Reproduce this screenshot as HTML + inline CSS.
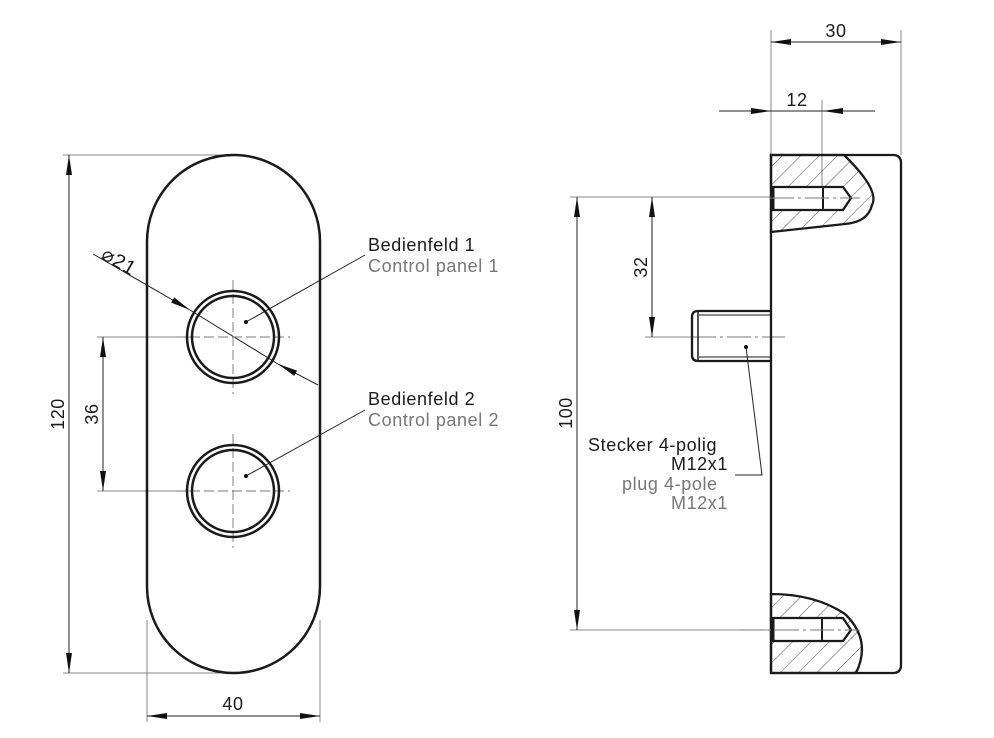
<!DOCTYPE html>
<html><head><style>html,body{margin:0;padding:0;background:#fff}svg{display:block}</style></head><body>
<svg width="994" height="738" viewBox="0 0 994 738" xmlns="http://www.w3.org/2000/svg" font-family="Liberation Sans, sans-serif">
<defs>
<pattern id="h" patternUnits="userSpaceOnUse" width="13" height="13" patternTransform="rotate(45)">
<line x1="0" y1="0" x2="0" y2="13" stroke="#222" stroke-width="0.8"/>
</pattern>
<marker id="a" viewBox="0 0 20 8" refX="20" refY="4" markerWidth="20" markerHeight="8" markerUnits="userSpaceOnUse" orient="auto-start-reverse"><path d="M0,1 L20,4 L0,7 Z" fill="#111"/></marker>
</defs>
<g stroke="#888" stroke-width="1" fill="none">
<line x1="63" y1="155" x2="232" y2="155"/>
<line x1="63" y1="673" x2="232" y2="673"/>
<line x1="97" y1="337" x2="190" y2="337"/>
<line x1="97" y1="491" x2="190" y2="491"/>
<line x1="147" y1="620" x2="147" y2="722"/>
<line x1="320" y1="620" x2="320" y2="722"/>
<line x1="771" y1="30" x2="771" y2="155"/>
<line x1="901" y1="30" x2="901" y2="155"/>
<line x1="822" y1="100" x2="822" y2="187"/>
<line x1="570" y1="197" x2="770" y2="197"/>
<line x1="570" y1="630" x2="770" y2="630"/>
<line x1="645" y1="337" x2="692" y2="337"/>
</g>
<g stroke="#222" stroke-width="1" fill="none">
<line x1="69" y1="155" x2="69" y2="673" marker-start="url(#a)" marker-end="url(#a)"/>
<line x1="103" y1="337" x2="103" y2="491" marker-start="url(#a)" marker-end="url(#a)"/>
<line x1="147" y1="716" x2="320" y2="716" marker-start="url(#a)" marker-end="url(#a)"/>
<line x1="771" y1="42" x2="901" y2="42" marker-start="url(#a)" marker-end="url(#a)"/>
<line x1="719" y1="111" x2="771" y2="111" marker-end="url(#a)"/>
<line x1="771" y1="111" x2="823" y2="111"/>
<line x1="875" y1="111" x2="823" y2="111" marker-end="url(#a)"/>
<line x1="652" y1="197" x2="652" y2="337" marker-start="url(#a)" marker-end="url(#a)"/>
<line x1="577" y1="197" x2="577" y2="630" marker-start="url(#a)" marker-end="url(#a)"/>
<line x1="93" y1="254" x2="190" y2="310" marker-end="url(#a)"/>
<line x1="190" y1="310" x2="278" y2="364"/>
<line x1="318" y1="385" x2="278" y2="364" marker-end="url(#a)"/>
<polyline points="246,322 365,255"/>
<polyline points="246,476 365,410"/>
<polyline points="746,347 762,475 735,475"/>
</g>
<g stroke="#777" stroke-width="0.9" stroke-dasharray="10,4" fill="none">
<line x1="176" y1="337" x2="290" y2="337"/>
<line x1="233" y1="280" x2="233" y2="394"/>
<line x1="176" y1="491" x2="290" y2="491"/>
<line x1="233" y1="434" x2="233" y2="548"/>
</g>
<g stroke="#777" stroke-width="0.9" stroke-dasharray="24,4,3,4" fill="none">
<line x1="692" y1="337" x2="785" y2="337"/>
</g>
<g stroke="#1a1a1a" fill="none">
<rect x="147" y="155" width="173" height="518" rx="86.5" stroke-width="2.5"/>
<circle cx="233" cy="337" r="46" stroke-width="2.5"/>
<circle cx="233" cy="337" r="41" stroke-width="2.5"/>
<circle cx="233" cy="491" r="46" stroke-width="2.5"/>
<circle cx="233" cy="491" r="41" stroke-width="2.5"/>
</g>
<circle cx="246" cy="322" r="2" fill="#111"/>
<circle cx="246" cy="476" r="2" fill="#111"/>
<path d="M771,155 H844 Q880,190 872,205 Q868,222 845,224 L771,232 Z" fill="url(#h)" stroke="#1a1a1a" stroke-width="2.3"/>
<path d="M771,673 H856 Q872,640 845,614 Q815,594 771,594 Z" fill="url(#h)" stroke="#1a1a1a" stroke-width="2.3"/>
<path d="M771,155 H893 Q901,155 901,163 V665 Q901,673 893,673 H771 Z" fill="none" stroke="#1a1a1a" stroke-width="2.3"/>
<path d="M773,187 H843 L851,198 L843,210 H773 Z" fill="#fff" stroke="#1a1a1a" stroke-width="2.3"/>
<line x1="823" y1="187" x2="823" y2="210" stroke="#1a1a1a" stroke-width="2"/>
<line x1="773" y1="187" x2="773" y2="210" stroke="#1a1a1a" stroke-width="3"/>
<path d="M773,618 H843 L851,630 L843,641 H773 Z" fill="#fff" stroke="#1a1a1a" stroke-width="2.3"/>
<line x1="822" y1="618" x2="822" y2="641" stroke="#1a1a1a" stroke-width="2"/>
<line x1="773" y1="618" x2="773" y2="641" stroke="#1a1a1a" stroke-width="3"/>
<line x1="770" y1="198" x2="860" y2="198" stroke="#777" stroke-width="0.9" stroke-dasharray="24,4,3,4"/>
<line x1="740" y1="630" x2="860" y2="630" stroke="#777" stroke-width="0.9" stroke-dasharray="24,4,3,4"/>
<path d="M771,311 H698 Q692,311 692,317 V355 Q692,361 698,361 H771" fill="none" stroke="#1a1a1a" stroke-width="2.3"/>
<line x1="698" y1="311" x2="698" y2="361" stroke="#1a1a1a" stroke-width="1.5"/>
<line x1="699" y1="315" x2="771" y2="315" stroke="#1a1a1a" stroke-width="1"/>
<line x1="699" y1="357" x2="771" y2="357" stroke="#1a1a1a" stroke-width="1"/>
<circle cx="746" cy="347" r="2" fill="#111"/>
<g font-size="18" fill="#1a1a1a" letter-spacing="0.6">
<text x="233" y="710" text-anchor="middle">40</text>
<text transform="translate(64,414) rotate(-90)" text-anchor="middle">120</text>
<text transform="translate(98,414) rotate(-90)" text-anchor="middle">36</text>
<text transform="translate(100,258) rotate(30)" font-size="20">⌀21</text>
<text x="368" y="251">Bedienfeld 1</text>
<text x="368" y="272" fill="#777">Control panel 1</text>
<text x="368" y="405">Bedienfeld 2</text>
<text x="368" y="426" fill="#777">Control panel 2</text>
<text x="836" y="37" text-anchor="middle">30</text>
<text x="797" y="106" text-anchor="middle">12</text>
<text transform="translate(647,267) rotate(-90)" text-anchor="middle">32</text>
<text transform="translate(572,413) rotate(-90)" text-anchor="middle">100</text>
<text x="588" y="451">Stecker 4-polig</text>
<text x="728" y="470" text-anchor="end">M12x1</text>
<text x="622" y="490" fill="#777">plug 4-pole</text>
<text x="728" y="509" text-anchor="end" fill="#777">M12x1</text>
</g>
</svg>
</body></html>
